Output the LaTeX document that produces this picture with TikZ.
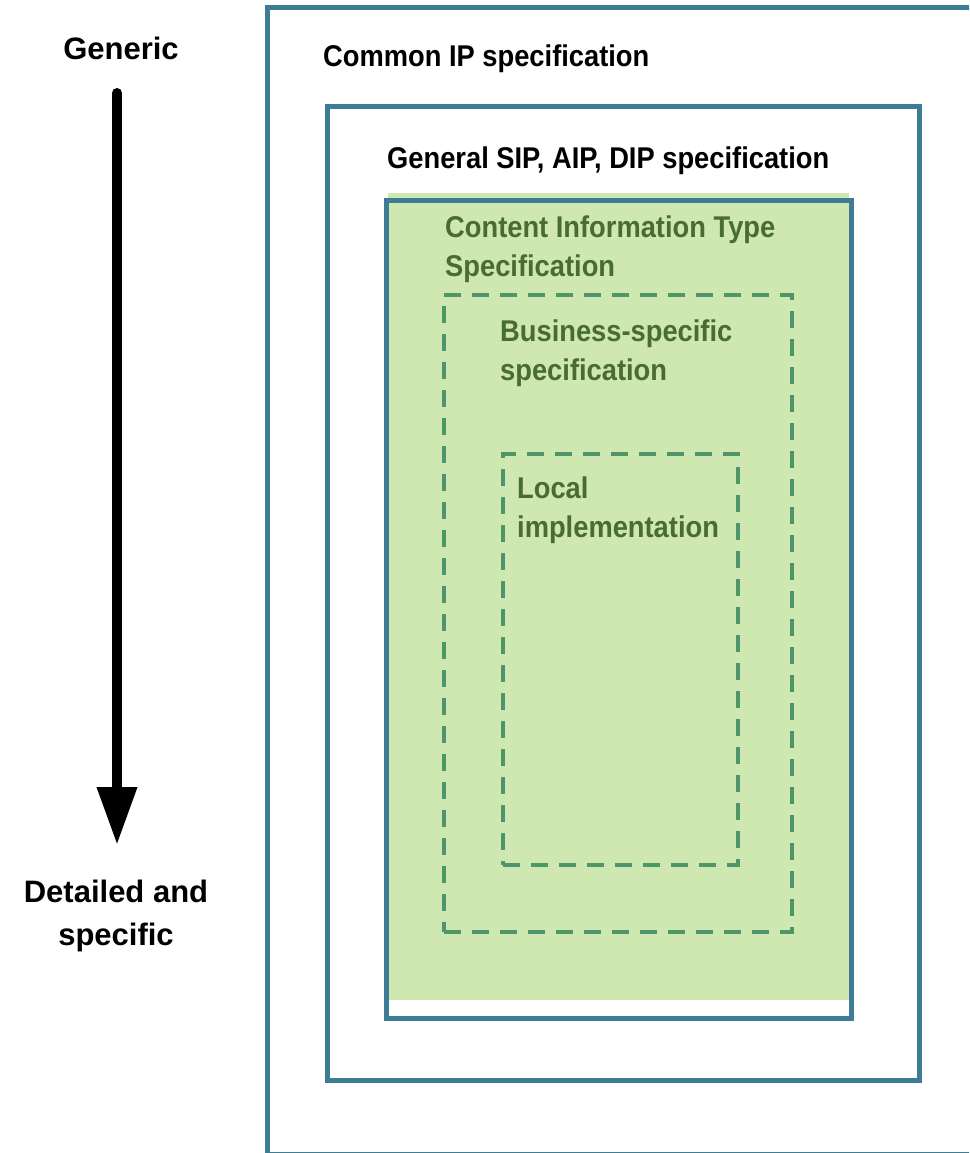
\documentclass[tikz,border=0pt]{standalone}
\usepackage{fontspec}
\setmainfont{Liberation Sans}
\newfontfamily\narrowsans{Liberation Sans}[FakeStretch=0.91]
\usetikzlibrary{arrows.meta}
\definecolor{frameblue}{RGB}{61,124,148}
\definecolor{specgreen}{RGB}{207,232,178}
\definecolor{dashgreen}{RGB}{78,150,106}
\definecolor{textgreen}{RGB}{72,108,52}
\begin{document}
\begin{tikzpicture}[x=1pt,y=-1pt,
  frame/.style={rectangle, draw=frameblue, line width=5pt, inner sep=0pt, outer sep=0pt},
  dashframe/.style={rectangle, draw=dashgreen, line width=4pt, dash pattern=on 17pt off 11pt, inner sep=0pt, outer sep=0pt},
  boxlabel/.style={anchor=base west, inner sep=0pt, align=left, font=\narrowsans\bfseries\fontsize{30}{39}\selectfont},
  sidelabel/.style={anchor=base, inner sep=0pt, align=center, font=\bfseries\fontsize{31}{43}\selectfont}]
\useasboundingbox (0,0) rectangle (969,1153);
\clip (0,0) rectangle (969,1153);
\fill[white] (0,0) rectangle (969,1153);

% nested specification levels
\node[frame, minimum width=743, minimum height=1146] (common) at (638.5,581) {};
\node[frame, minimum width=592, minimum height=973] (general) at (623,593.5) {};
\fill[specgreen] (388,193) rectangle (849,1000);
\node[frame, minimum width=465, minimum height=818] (content) at (618.5,609) {};
\node[dashframe, minimum width=348, minimum height=637] (business) at (618,613.5) {};
\node[dashframe, minimum width=235, minimum height=411] (local) at (620.5,659.5) {};

% level titles (a multi-line title sits on its last baseline)
\node[boxlabel] (commonlbl) at (323,67) {Common IP specification};
\node[boxlabel] (generallbl) at (387,168) {General SIP, AIP, DIP specification};
\node[boxlabel, text=textgreen] (contentlbl) at (445,276) {Content Information Type\\Specification};
\node[boxlabel, text=textgreen] (businesslbl) at (500,380) {Business-specific\\specification};
\node[boxlabel, text=textgreen] (locallbl) at (517,537) {Local\\implementation};

% generic-to-specific axis
\node[sidelabel] (generic) at (121,60) {Generic};
\node[sidelabel] (detailed) at (116,945) {Detailed and\\specific};
\coordinate (axistop) at (117,93);
\coordinate (axistip) at (117,845);
\draw[line width=10pt, line cap=round, -{Triangle[length=58pt,width=38pt]}] (axistop) -- (axistip);
\end{tikzpicture}
\end{document}
